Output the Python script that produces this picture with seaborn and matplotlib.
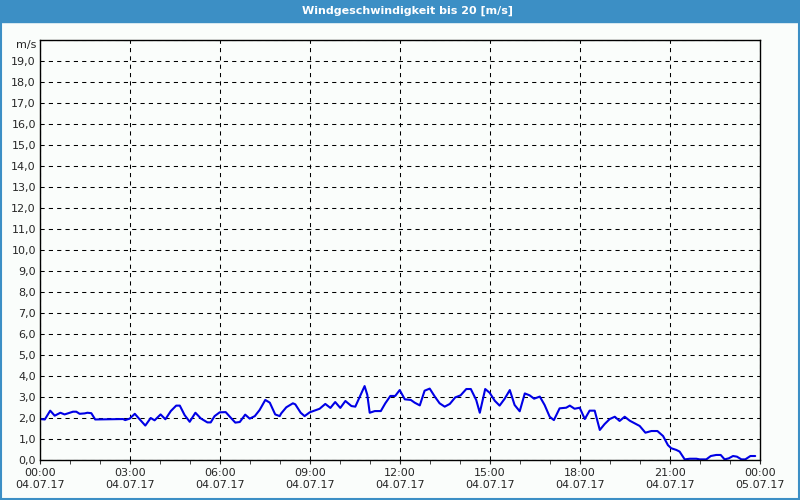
import matplotlib
matplotlib.use("Agg")
import matplotlib.pyplot as plt
import matplotlib.patches as mpatches
from matplotlib.ticker import FixedLocator, MultipleLocator, FuncFormatter
import numpy as np
import pandas as pd
import seaborn as sns

# time of day in hours (04.07.17 00:00 .. 05.07.17 00:00) and wind speed in m/s
hours = [
    0.00, 0.16, 0.34, 0.49, 0.68, 0.82, 1.10, 1.21, 1.32, 1.49, 1.58, 1.71,
    1.84, 2.77, 2.84, 2.99, 3.16, 3.32, 3.51, 3.69, 3.82, 4.02, 4.18, 4.36,
    4.54, 4.66, 4.82, 4.99, 5.18, 5.36, 5.58, 5.69, 5.82, 5.99, 6.19, 6.36,
    6.51, 6.66, 6.84, 6.99, 7.16, 7.32, 7.51, 7.66, 7.84, 7.99, 8.04, 8.21,
    8.43, 8.51, 8.69, 8.82, 8.99, 9.16, 9.32, 9.51, 9.68, 9.84, 10.01, 10.18,
    10.38, 10.51, 10.66, 10.82, 10.91, 10.99, 11.16, 11.36, 11.51, 11.68,
    11.84, 11.99, 12.16, 12.36, 12.49, 12.66, 12.82, 12.99, 13.16, 13.32,
    13.49, 13.66, 13.84, 14.02, 14.21, 14.36, 14.54, 14.66, 14.84, 14.99,
    15.16, 15.32, 15.49, 15.66, 15.82, 15.99, 16.16, 16.32, 16.47, 16.66,
    16.82, 16.99, 17.13, 17.32, 17.54, 17.66, 17.82, 17.99, 18.16, 18.32,
    18.49, 18.66, 18.82, 18.99, 19.16, 19.32, 19.49, 19.66, 19.82, 19.99,
    20.18, 20.38, 20.58, 20.77, 20.93, 21.04, 21.21, 21.32, 21.49, 21.66,
    21.88, 21.99, 22.21, 22.36, 22.54, 22.69, 22.82, 22.96, 23.10, 23.23,
    23.38, 23.51, 23.68, 23.84,
]
speed = [
    1.95, 1.93, 2.35, 2.11, 2.25, 2.17, 2.30, 2.30, 2.20, 2.22, 2.25, 2.23,
    1.93, 1.95, 1.90, 1.97, 2.20, 1.94, 1.64, 2.00, 1.89, 2.17, 1.94, 2.33,
    2.59, 2.59, 2.14, 1.82, 2.25, 1.98, 1.79, 1.79, 2.09, 2.27, 2.28, 2.01,
    1.78, 1.81, 2.16, 1.97, 2.09, 2.38, 2.86, 2.73, 2.17, 2.09, 2.22, 2.51,
    2.70, 2.65, 2.25, 2.09, 2.27, 2.36, 2.44, 2.67, 2.48, 2.76, 2.48, 2.81,
    2.57, 2.54, 3.02, 3.52, 3.10, 2.25, 2.33, 2.33, 2.70, 3.05,
    3.05, 3.33, 2.89, 2.86, 2.73, 2.60, 3.30, 3.40, 3.02, 2.70,
    2.54, 2.67, 2.98, 3.08, 3.38, 3.38, 2.86, 2.25, 3.38, 3.20,
    2.82, 2.59, 2.92, 3.33, 2.62, 2.32, 3.17, 3.08, 2.92, 3.02,
    2.62, 2.06, 1.90, 2.46, 2.49, 2.59, 2.44, 2.49, 1.95, 2.35,
    2.35, 1.43, 1.71, 1.95, 2.06, 1.86, 2.06, 1.87, 1.75, 1.62,
    1.30, 1.38, 1.38, 1.14, 0.71, 0.56, 0.48, 0.40, 0.03, 0.06,
    0.06, 0.03, 0.03, 0.19, 0.24, 0.24, 0.03, 0.08, 0.19, 0.16,
    0.03, 0.03, 0.19, 0.19,
]
tick_hours = [0, 3, 6, 9, 12, 15, 18, 21, 24]
tick_labels = [
    "00:00\n04.07.17", "03:00\n04.07.17", "06:00\n04.07.17",
    "09:00\n04.07.17", "12:00\n04.07.17", "15:00\n04.07.17",
    "18:00\n04.07.17", "21:00\n04.07.17", "00:00\n05.07.17",
]
title = "Windgeschwindigkeit bis 20 [m/s]"
unit = "m/s"

df = pd.DataFrame({"hour": hours, "speed": speed})

sns.set_style("white")
plt.rcParams["font.family"] = ["DejaVu Sans"]
bg = "#fafdfb"
frame_blue = "#3c8fc5"

fig = plt.figure(figsize=(8, 5), dpi=100, facecolor=bg)
ax = fig.add_axes([0.05, 0.08, 0.90, 0.84], facecolor=bg)

sns.lineplot(data=df, x="hour", y="speed", ax=ax, color="#0000e6",
             linewidth=1.5, legend=False)

ax.set_xlim(0, 24)
ax.set_ylim(0, 20)
ax.xaxis.set_major_locator(FixedLocator(tick_hours))
ax.set_xticklabels(tick_labels, fontsize=8)
ax.xaxis.set_minor_locator(MultipleLocator(1))
ax.yaxis.set_major_locator(MultipleLocator(1))
ax.yaxis.set_major_formatter(
    FuncFormatter(lambda v, p: "" if v >= 20 else f"{v:.1f}".replace(".", ","))
)
ax.tick_params(axis="y", labelsize=8, length=0, pad=3)
ax.tick_params(axis="x", which="both", direction="out", length=3, pad=3,
               bottom=True)
ax.set_xlabel("")
ax.set_ylabel("")

ax.grid(True, axis="both", which="major", color="black", linestyle=(0, (4, 4)),
        linewidth=0.75)
for s in ax.spines.values():
    s.set_color("black")
    s.set_linewidth(1.0)

ax.text(-0.005, 1.0, unit, transform=ax.transAxes, ha="right", va="top",
        fontsize=8)

# title bar and blue window frame
fig.patches.append(mpatches.Rectangle((0, 0.956), 1, 0.044,
                                      transform=fig.transFigure,
                                      color=frame_blue, zorder=0))
fig.patches.append(mpatches.Rectangle((0.001, 0.002), 0.998, 0.996,
                                      transform=fig.transFigure, fill=False,
                                      edgecolor=frame_blue, linewidth=1.5,
                                      zorder=0))
fig.text(0.51, 0.978, title, color="white", fontsize=8, fontweight="bold",
         ha="center", va="center")

fig.savefig("out.png", dpi=100, facecolor=bg)
